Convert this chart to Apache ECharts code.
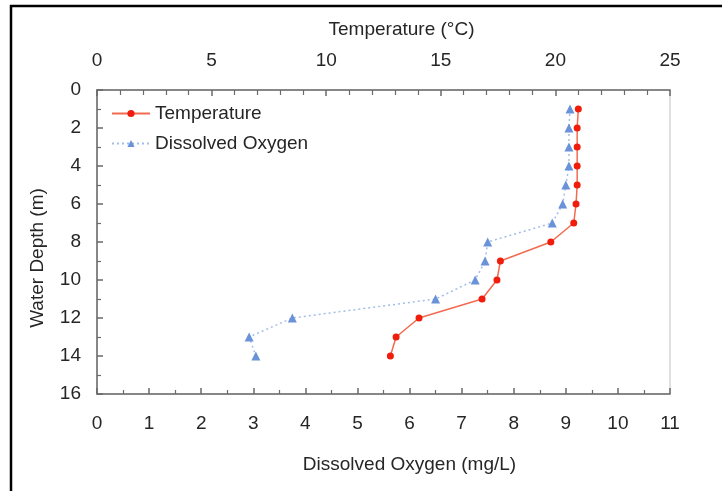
<!DOCTYPE html>
<html>
<head>
<meta charset="utf-8">
<script src="https://cdn.jsdelivr.net/npm/echarts@6/dist/echarts.min.js"></script>
<style>
html,body{margin:0;padding:0;background:#fff;}
#c{width:722px;height:491px;}
</style>
</head>
<body>
<div id="c"></div>
<script>
const depths = [1, 2, 3, 4, 5, 6, 7, 8, 9, 10, 11, 12, 13, 14];
const temperature = [21.0, 20.95, 20.95, 20.95, 20.95, 20.9, 20.8, 19.8, 17.6, 17.45, 16.8, 14.05, 13.05, 12.8];
const dissolvedOxygen = [9.08, 9.06, 9.06, 9.06, 9.0, 8.94, 8.74, 7.5, 7.45, 7.26, 6.5, 3.75, 2.92, 3.05];
const tempTicks = [0, 5, 10, 15, 20, 25];
const doTicks = [0, 1, 2, 3, 4, 5, 6, 7, 8, 9, 10, 11];
const depthTicks = [0, 2, 4, 6, 8, 10, 12, 14, 16];

const font = 'Liberation Sans, Arial, sans-serif';
const txt = '#262626';
const fs = 19;
const axisLineStyle = {color: '#6a6a6a', width: 1.5};

const chart = echarts.init(document.getElementById('c'), null, {renderer: 'canvas'});
chart.setOption({
  animation: false,
  backgroundColor: '#fff',
  graphic: [{
    type: 'rect',
    shape: {x: 11, y: 6, width: 760, height: 540},
    style: {fill: 'none', stroke: '#000', lineWidth: 2.5},
    silent: true
  }],
  grid: {left: 97, top: 90, width: 573, height: 304, show: true, borderColor: '#d6d6d6', borderWidth: 1.5, backgroundColor: 'transparent'},
  legend: {
    orient: 'vertical', left: 106, top: 99, itemGap: 11, itemWidth: 38, itemHeight: 9,
    textStyle: {fontFamily: font, fontSize: fs, color: txt},
    data: ['Temperature', 'Dissolved Oxygen']
  },
  xAxis: [{
    type: 'value', position: 'top', min: 0, max: tempTicks[tempTicks.length - 1], interval: 5,
    name: 'Temperature (°C)', nameLocation: 'middle', nameGap: 51,
    nameTextStyle: {fontFamily: font, fontSize: fs, color: txt, padding: [0, 0, 0, 36]},
    axisLine: {show: true, lineStyle: axisLineStyle},
    axisTick: {show: true, inside: true, length: 6, lineStyle: axisLineStyle},
    minorTick: {show: true, splitNumber: 5, length: 5, lineStyle: {color: '#6a6a6a', width: 1.2}},
    axisLabel: {fontFamily: font, fontSize: fs, color: txt, margin: 20, formatter: v => tempTicks.includes(v) ? String(v) : ''},
    splitLine: {show: false}
  }, {
    type: 'value', position: 'bottom', min: 0, max: doTicks[doTicks.length - 1], interval: 1,
    name: 'Dissolved Oxygen (mg/L)', nameLocation: 'middle', nameGap: 61,
    nameTextStyle: {fontFamily: font, fontSize: fs, color: txt, padding: [0, 0, 0, 52]},
    axisLine: {show: true, lineStyle: axisLineStyle},
    axisTick: {show: true, inside: true, length: 6, lineStyle: axisLineStyle},
    minorTick: {show: true, splitNumber: 2, length: 4, lineStyle: {color: '#6a6a6a', width: 1.2}},
    axisLabel: {fontFamily: font, fontSize: fs, color: txt, margin: 20, formatter: v => doTicks.includes(v) ? String(v) : ''},
    splitLine: {show: false}
  }],
  yAxis: [{
    type: 'value', inverse: true, min: 0, max: depthTicks[depthTicks.length - 1], interval: 2,
    name: 'Water Depth (m)', nameLocation: 'middle', nameGap: 50, nameRotate: 90,
    nameTextStyle: {fontFamily: font, fontSize: fs, color: txt, padding: [0, 32, 0, 0]},
    axisLine: {show: true, lineStyle: axisLineStyle},
    axisTick: {show: true, inside: true, length: 6, lineStyle: axisLineStyle},
    minorTick: {show: true, splitNumber: 2, length: 4, lineStyle: {color: '#6a6a6a', width: 1.2}},
    axisLabel: {fontFamily: font, fontSize: fs, color: txt, margin: 16, formatter: v => depthTicks.includes(v) ? String(v) : ''},
    splitLine: {show: false}
  }],
  series: [{
    name: 'Temperature', type: 'line', xAxisIndex: 0, yAxisIndex: 0,
    data: depths.map((d, i) => [temperature[i], d]),
    symbol: 'circle', symbolSize: 7,
    itemStyle: {color: '#f01c0c'},
    lineStyle: {color: '#f26a50', width: 1.5}
  }, {
    name: 'Dissolved Oxygen', type: 'line', xAxisIndex: 1, yAxisIndex: 0,
    data: depths.map((d, i) => [dissolvedOxygen[i], d]),
    symbol: 'triangle', symbolSize: 9,
    itemStyle: {color: '#6a92d8'},
    lineStyle: {color: '#a3bde8', width: 1.5, type: [2, 3]}
  }]
});
</script>
</body>
</html>
